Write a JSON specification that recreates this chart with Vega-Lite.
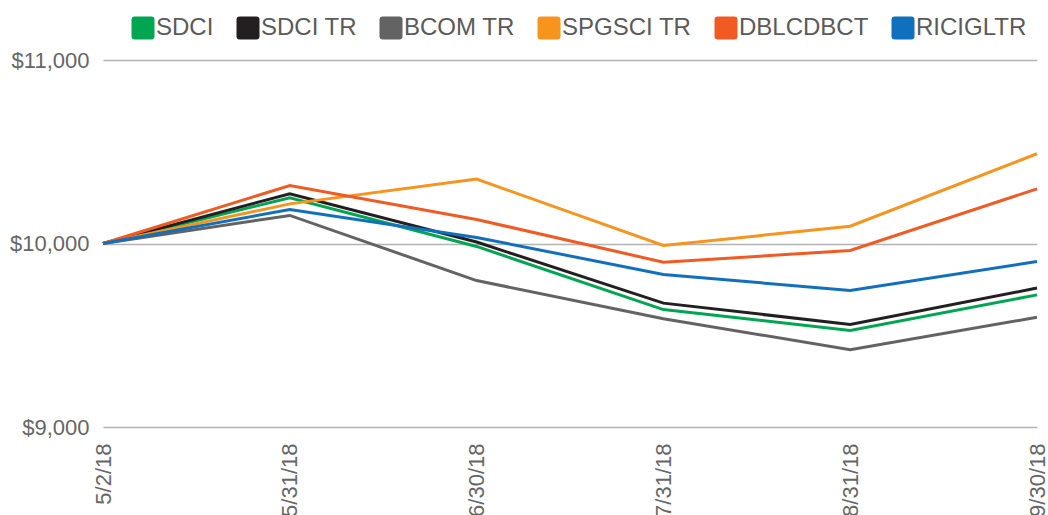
{
  "$schema": "https://vega.github.io/schema/vega-lite/v6.json",
  "autosize": "none",
  "width": 934,
  "height": 367,
  "padding": {"left": 103, "top": 60, "right": 11, "bottom": 88},
  "background": "white",
  "config": {
    "view": {"stroke": null},
    "font": "Liberation Sans"
  },
  "data": {
    "values": [
      {"date": "5/2/18", "series": "SDCI", "value": 10000},
      {"date": "5/31/18", "series": "SDCI", "value": 10249},
      {"date": "6/30/18", "series": "SDCI", "value": 9984},
      {"date": "7/31/18", "series": "SDCI", "value": 9640},
      {"date": "8/31/18", "series": "SDCI", "value": 9526},
      {"date": "9/30/18", "series": "SDCI", "value": 9720},
      {"date": "5/2/18", "series": "SDCI TR", "value": 10000},
      {"date": "5/31/18", "series": "SDCI TR", "value": 10271},
      {"date": "6/30/18", "series": "SDCI TR", "value": 10008},
      {"date": "7/31/18", "series": "SDCI TR", "value": 9675},
      {"date": "8/31/18", "series": "SDCI TR", "value": 9559},
      {"date": "9/30/18", "series": "SDCI TR", "value": 9757},
      {"date": "5/2/18", "series": "BCOM TR", "value": 10000},
      {"date": "5/31/18", "series": "BCOM TR", "value": 10153},
      {"date": "6/30/18", "series": "BCOM TR", "value": 9798},
      {"date": "7/31/18", "series": "BCOM TR", "value": 9590},
      {"date": "8/31/18", "series": "BCOM TR", "value": 9421},
      {"date": "9/30/18", "series": "BCOM TR", "value": 9598},
      {"date": "5/2/18", "series": "SPGSCI TR", "value": 10000},
      {"date": "5/31/18", "series": "SPGSCI TR", "value": 10216},
      {"date": "6/30/18", "series": "SPGSCI TR", "value": 10351},
      {"date": "7/31/18", "series": "SPGSCI TR", "value": 9989},
      {"date": "8/31/18", "series": "SPGSCI TR", "value": 10094},
      {"date": "9/30/18", "series": "SPGSCI TR", "value": 10489},
      {"date": "5/2/18", "series": "DBLCDBCT", "value": 10000},
      {"date": "5/31/18", "series": "DBLCDBCT", "value": 10316},
      {"date": "6/30/18", "series": "DBLCDBCT", "value": 10131},
      {"date": "7/31/18", "series": "DBLCDBCT", "value": 9898},
      {"date": "8/31/18", "series": "DBLCDBCT", "value": 9962},
      {"date": "9/30/18", "series": "DBLCDBCT", "value": 10298},
      {"date": "5/2/18", "series": "RICIGLTR", "value": 10000},
      {"date": "5/31/18", "series": "RICIGLTR", "value": 10185},
      {"date": "6/30/18", "series": "RICIGLTR", "value": 10033},
      {"date": "7/31/18", "series": "RICIGLTR", "value": 9831},
      {"date": "8/31/18", "series": "RICIGLTR", "value": 9744},
      {"date": "9/30/18", "series": "RICIGLTR", "value": 9902}
    ]
  },
  "mark": {"type": "line", "strokeWidth": 3, "strokeJoin": "miter"},
  "encoding": {
    "x": {
      "field": "date",
      "type": "ordinal",
      "sort": null,
      "scale": {"type": "point", "padding": 0},
      "axis": {
        "title": null,
        "domain": false,
        "ticks": false,
        "tickSize": 0,
        "grid": false,
        "labelAngle": -90,
        "labelPadding": 16,
        "labelFontSize": 22,
        "labelColor": "#666666",
        "labelFont": "Liberation Sans"
      }
    },
    "y": {
      "field": "value",
      "type": "quantitative",
      "scale": {"domain": [9000, 11000], "zero": false},
      "axis": {
        "title": null,
        "values": [9000, 10000, 11000],
        "format": "$,.0f",
        "domain": false,
        "ticks": false,
        "tickSize": 0,
        "grid": true,
        "gridColor": "#b3b3b3",
        "gridWidth": 1.5,
        "labelPadding": 14,
        "labelFontSize": 22,
        "labelColor": "#666666",
        "labelFont": "Liberation Sans"
      }
    },
    "color": {
      "field": "series",
      "type": "nominal",
      "sort": ["SDCI", "SDCI TR", "BCOM TR", "SPGSCI TR", "DBLCDBCT", "RICIGLTR"],
      "scale": {
        "domain": ["SDCI", "SDCI TR", "BCOM TR", "SPGSCI TR", "DBLCDBCT", "RICIGLTR"],
        "range": ["#00a651", "#231f20", "#636363", "#f7941d", "#f15a22", "#1170bd"]
      },
      "legend": {
        "title": null,
        "orient": "none",
        "direction": "horizontal",
        "legendX": 28,
        "legendY": -44,
        "padding": 0,
        "symbolType": "M-0.72,-1H0.72Q1,-1,1,-0.72V0.72Q1,1,0.72,1H-0.72Q-1,1,-1,0.72V-0.72Q-1,-1,-0.72,-1Z",
        "symbolSize": 529,
        "symbolStrokeWidth": 0,
        "symbolOpacity": 1,
        "labelFontSize": 24,
        "labelColor": "#5a5a5a",
        "labelFont": "Liberation Sans",
        "labelOffset": 1,
        "columnPadding": 22,
        "labelLimit": 300,
        "encode": {
          "symbols": {
            "update": {
              "fill": {"scale": "color", "field": "value"},
              "fillOpacity": {"value": 1},
              "strokeWidth": {"value": 0}
            }
          }
        }
      }
    }
  }
}
